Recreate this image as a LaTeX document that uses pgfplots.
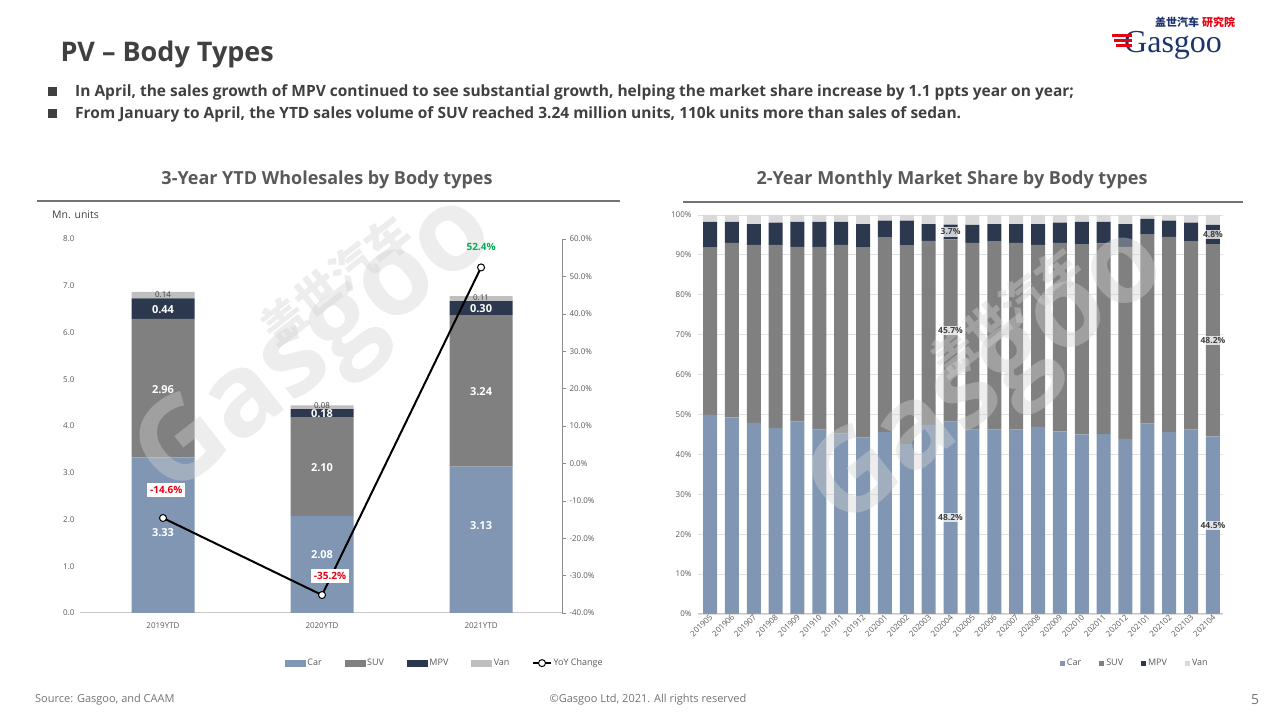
\documentclass[border=0pt]{standalone}
\usepackage{pgfplots}
\pgfplotsset{compat=1.18}
\usepackage{pgfplotstable}
\usepackage{fontspec}
\setmainfont{Open Sans}
\newfontfamily\cjk{Noto Sans CJK SC}
\newfontfamily\logoserif{Liberation Serif}

\definecolor{carc}{RGB}{128,150,178}
\definecolor{suvc}{RGB}{128,128,128}
\definecolor{mpvc}{RGB}{44,56,78}
\definecolor{vanc}{RGB}{191,191,191}
\definecolor{vanr}{RGB}{217,217,217}
\definecolor{txt}{RGB}{89,89,89}
\definecolor{dark}{RGB}{64,64,64}
\definecolor{redl}{RGB}{230,0,18}
\definecolor{greenl}{RGB}{0,176,80}
\definecolor{navy}{RGB}{28,52,110}
\definecolor{wm}{RGB}{210,210,210}

\tikzset{
  lblw/.style={text=white, font=\fontsize{11}{12}\selectfont\bfseries},
  lbld/.style={text=dark, font=\fontsize{8}{9}\selectfont},
  lblr/.style={fill=white, fill opacity=0.75, text opacity=1, text=dark, font=\fontsize{8.5}{9}\selectfont\bfseries, inner sep=1.5pt},
}

\pgfplotstableread{
i car suv mpv van yoy
0 3.33 2.96 0.44 0.14 -14.6
1 2.08 2.10 0.18 0.08 -35.2
2 3.13 3.24 0.30 0.11 52.4
}\lefttab

\pgfplotstableread{
i car suv mpv van
0 49.9 41.9 6.5 1.7
1 49.3 43.7 5.3 1.7
2 47.9 44.6 5.2 2.3
3 46.6 45.9 5.6 1.9
4 48.2 43.8 6.3 1.7
5 46.2 45.8 6.3 1.7
6 45.2 47.3 5.8 1.7
7 44.2 47.6 5.9 2.3
8 45.6 48.7 4.3 1.4
9 42.6 49.7 6.3 1.4
10 47.4 46.1 4.2 2.3
11 48.2 45.7 3.7 2.4
12 46.2 46.8 4.5 2.5
13 46.2 47.1 4.4 2.3
14 46.2 46.8 4.7 2.3
15 46.9 45.6 5.2 2.3
16 45.8 47.2 5.1 1.9
17 45.0 47.7 5.6 1.7
18 45.1 47.8 5.4 1.7
19 43.9 48.1 5.7 2.3
20 47.7 47.4 3.9 1.0
21 45.6 48.9 4.1 1.4
22 46.2 47.1 4.8 1.9
23 44.5 48.2 4.8 2.5
}\righttab

\pgfplotsset{
  leftgeom/.style={at={(80pt,107pt)}, anchor=south west, scale only axis, width=482pt, height=374pt, xmin=-0.522, xmax=2.509, clip=false},
  rightgeom/.style={at={(698pt,106pt)}, anchor=south west, scale only axis, width=525pt, height=399pt, xmin=-0.55, xmax=23.46, ymin=0, ymax=100, clip=false},
}

\begin{document}
\begin{tikzpicture}
\path[use as bounding box] (0pt,0pt) rectangle (1280pt,720pt);

% Header
\node[anchor=base west, text=dark, font=\fontsize{27}{30}\selectfont\bfseries] at (57pt,658pt) {PV – Body Types};
\fill[dark] (48pt,624pt) rectangle (57pt,633pt);
\fill[dark] (48pt,602pt) rectangle (57pt,611pt);
\node[anchor=base west, text=dark, font=\fontsize{15.5}{17}\selectfont\bfseries, inner sep=0pt] at (75pt,623pt) {In April, the sales growth of MPV continued to see substantial growth, helping the market share increase by 1.1 ppts year on year;};
\node[anchor=base west, text=dark, font=\fontsize{15.5}{17}\selectfont\bfseries, inner sep=0pt] at (75pt,601pt) {From January to April, the YTD sales volume of SUV reached 3.24 million units, 110k units more than sales of sedan.};

% Logo
\node[anchor=base west, text=navy, font=\cjk\fontsize{11}{12}\selectfont\bfseries, inner sep=0pt] at (1155pt,693pt) {盖世汽车};
\node[anchor=base west, text=redl, font=\cjk\fontsize{11}{12}\selectfont\bfseries, inner sep=0pt] at (1202pt,693pt) {研究院};
\node[anchor=base west, text=navy, font=\logoserif\fontsize{32}{34}\selectfont, inner sep=0pt] at (1124pt,667pt) {Gasgoo};
\fill[redl] (1112pt,683pt) rectangle (1132pt,686pt);
\fill[redl] (1114pt,678pt) rectangle (1132pt,681pt);
\fill[redl] (1116pt,673pt) rectangle (1132pt,676pt);

% Chart titles
\node[anchor=base, text=txt, font=\fontsize{18}{20}\selectfont\bfseries] at (327pt,535pt) {3-Year YTD Wholesales by Body types};
\node[anchor=base, text=txt, font=\fontsize{18}{20}\selectfont\bfseries] at (952pt,535pt) {2-Year Monthly Market Share by Body types};
\draw[black!55, line width=1.2pt] (37pt,519pt) -- (620pt,519pt);
\draw[black!55, line width=1.2pt] (683pt,518pt) -- (1243pt,518pt);
\node[anchor=base west, text=dark, font=\fontsize{10.5}{12}\selectfont, inner sep=0pt] at (52pt,501pt) {Mn. units};

% Footer
\node[anchor=base west, text=black!55, font=\fontsize{11}{12}\selectfont, inner sep=0pt] at (35pt,17pt) {Source: Gasgoo, and CAAM};
\node[anchor=base, text=black!55, font=\fontsize{11}{12}\selectfont, inner sep=0pt] at (648pt,17pt) {©Gasgoo Ltd, 2021. All rights reserved};
\node[anchor=base west, text=black!55, font=\fontsize{14}{16}\selectfont, inner sep=0pt] at (1251pt,15pt) {5};

% ---------- Left chart: bars ----------
\begin{axis}[leftgeom, ymin=0, ymax=8,
  ybar stacked, bar width=63pt,
  xtick={0,1,2}, xticklabels={2019YTD,2020YTD,2021YTD},
  ytick={0,1,...,8},
  yticklabel={\pgfmathprintnumber[fixed,fixed zerofill,precision=1,assume math mode=true]{\tick}},
  axis x line*=bottom, axis y line*=left,
  y axis line style={draw=none}, x axis line style={draw=black!22, line width=1pt},
  major tick length=0pt,
  tick label style={font=\fontsize{8}{9}\selectfont, text=txt},
  xticklabel style={yshift=-6pt}, yticklabel style={xshift=-2pt}]
\addplot[fill=carc, draw=none] table[x=i,y=car]{\lefttab};
\addplot[fill=suvc, draw=none] table[x=i,y=suv]{\lefttab};
\addplot[fill=mpvc, draw=none] table[x=i,y=mpv]{\lefttab};
\addplot[fill=vanc, draw=none] table[x=i,y=van]{\lefttab};
\end{axis}

% ---------- Right chart: bars ----------
\begin{axis}[rightgeom,
  ybar stacked, bar width=14pt,
  ytick={0,10,...,100},
  yticklabel={\pgfmathprintnumber[assume math mode=true]{\tick}\%},
  ymajorgrids, grid style={black!12, line width=0.8pt},
  axis x line*=bottom, axis y line*=left,
  y axis line style={draw=none}, x axis line style={draw=black!22, line width=1pt},
  major tick length=0pt,
  xtick={0,...,23},
  xticklabels={201905,201906,201907,201908,201909,201910,201911,201912,202001,202002,202003,202004,202005,202006,202007,202008,202009,202010,202011,202012,202101,202102,202103,202104},
  tick label style={font=\fontsize{8}{9}\selectfont, text=txt},
  xticklabel style={rotate=45, anchor=east, font=\fontsize{8}{9}\selectfont, xshift=3pt, yshift=-2pt},
  yticklabel style={xshift=-3pt},
  legend style={at={(0.832,-0.123)}, anchor=center, draw=none, fill=none,
    legend columns=-1, font=\fontsize{9}{10}\selectfont, text=txt,
    /tikz/every even column/.append style={column sep=16pt}},
  legend image code/.code={\fill[#1] (0pt,-2.5pt) rectangle (5pt,2.5pt);}]
\addplot[fill=carc, draw=none] table[x=i,y=car]{\righttab};
\addlegendentry{Car}
\addplot[fill=suvc, draw=none] table[x=i,y=suv]{\righttab};
\addlegendentry{SUV}
\addplot[fill=mpvc, draw=none] table[x=i,y=mpv]{\righttab};
\addlegendentry{MPV}
\addplot[fill=vanr, draw=none] table[x=i,y=van]{\righttab};
\addlegendentry{Van}
\end{axis}

% Watermarks
\node[text=wm, text opacity=0.4, rotate=38, font=\fontsize{115}{115}\selectfont\bfseries] at (318pt,372pt) {Gasgoo};
\node[text=wm, text opacity=0.4, rotate=38, font=\cjk\fontsize{44}{44}\selectfont\bfseries] at (335pt,440pt) {盖世汽车};
\node[text=wm, text opacity=0.4, rotate=38, font=\fontsize{115}{115}\selectfont\bfseries] at (990pt,340pt) {Gasgoo};
\node[text=wm, text opacity=0.4, rotate=38, font=\cjk\fontsize{44}{44}\selectfont\bfseries] at (1005pt,408pt) {盖世汽车};

% ---------- Left chart: YoY line ----------
\begin{axis}[leftgeom, ymin=-40, ymax=60,
  axis x line=none, axis y line*=right,
  ytick={-40,-30,...,60},
  yticklabel={\pgfmathprintnumber[fixed,fixed zerofill,precision=1,assume math mode=true]{\tick}\%},
  tick align=outside, major tick length=4pt,
  y axis line style={draw=black!45}, ytick style={draw=black!45},
  tick label style={font=\fontsize{8}{9}\selectfont, text=txt},
  legend style={at={(0.757,-0.134)}, anchor=center, draw=none, fill=none,
    legend columns=-1, font=\fontsize{9}{10}\selectfont, text=txt,
    /tikz/every even column/.append style={column sep=21pt}}]
\addlegendimage{legend image code/.code={\fill[carc] (0pt,-3pt) rectangle (20pt,3pt);}}
\addlegendentry{Car}
\addlegendimage{legend image code/.code={\fill[suvc] (0pt,-3pt) rectangle (20pt,3pt);}}
\addlegendentry{SUV}
\addlegendimage{legend image code/.code={\fill[mpvc] (0pt,-3pt) rectangle (20pt,3pt);}}
\addlegendentry{MPV}
\addlegendimage{legend image code/.code={\fill[vanc] (0pt,-3pt) rectangle (20pt,3pt);}}
\addlegendentry{Van}
\addplot[black, line width=2pt, mark=*, mark size=3.5pt, mark options={fill=white, draw=black, line width=1pt}] table[x=i,y=yoy]{\lefttab};
\addlegendentry{YoY Change}
\end{axis}

% ---------- Left chart: labels ----------
\begin{axis}[leftgeom, ymin=0, ymax=8, hide axis]
\addplot[draw=none, forget plot] coordinates {(0,0)};
\node[lblw] at (axis cs:0,1.72) {3.33};
\node[lblw] at (axis cs:1,1.24) {2.08};
\node[lblw] at (axis cs:2,1.86) {3.13};
\node[lblw] at (axis cs:0,4.77) {2.96};
\node[lblw] at (axis cs:1,3.12) {2.10};
\node[lblw] at (axis cs:2,4.73) {3.24};
\node[lblw] at (axis cs:0,6.48) {0.44};
\node[lblw] at (axis cs:1,4.27) {0.18};
\node[lblw] at (axis cs:2,6.52) {0.30};
\node[lbld] at (axis cs:0,6.82) {0.14};
\node[lbld] at (axis cs:1,4.44) {0.08};
\node[lbld] at (axis cs:2,6.74) {0.11};
\end{axis}
\begin{axis}[leftgeom, ymin=-40, ymax=60, hide axis]
\addplot[draw=none, forget plot] coordinates {(0,0)};
\node[fill=white, text=redl, font=\fontsize{10}{12}\selectfont\bfseries, inner sep=3pt] at (axis cs:0.02,-7.1) {-14.6\%};
\node[fill=white, text=redl, font=\fontsize{10}{12}\selectfont\bfseries, inner sep=3pt] at (axis cs:1.05,-30.1) {-35.2\%};
\node[text=greenl, font=\fontsize{10}{12}\selectfont\bfseries] at (axis cs:2,57.9) {52.4\%};
\end{axis}

% ---------- Right chart: labels ----------
\begin{axis}[rightgeom, hide axis]
\addplot[draw=none, forget plot] coordinates {(0,0)};
\node[lblr] at (axis cs:11,24.1) {48.2\%};
\node[lblr] at (axis cs:11,71.05) {45.7\%};
\node[lblr] at (axis cs:11,95.75) {3.7\%};
\node[lblr] at (axis cs:23,22.25) {44.5\%};
\node[lblr] at (axis cs:23,68.6) {48.2\%};
\node[lblr] at (axis cs:23,95.1) {4.8\%};
\end{axis}
\end{tikzpicture}
\end{document}
